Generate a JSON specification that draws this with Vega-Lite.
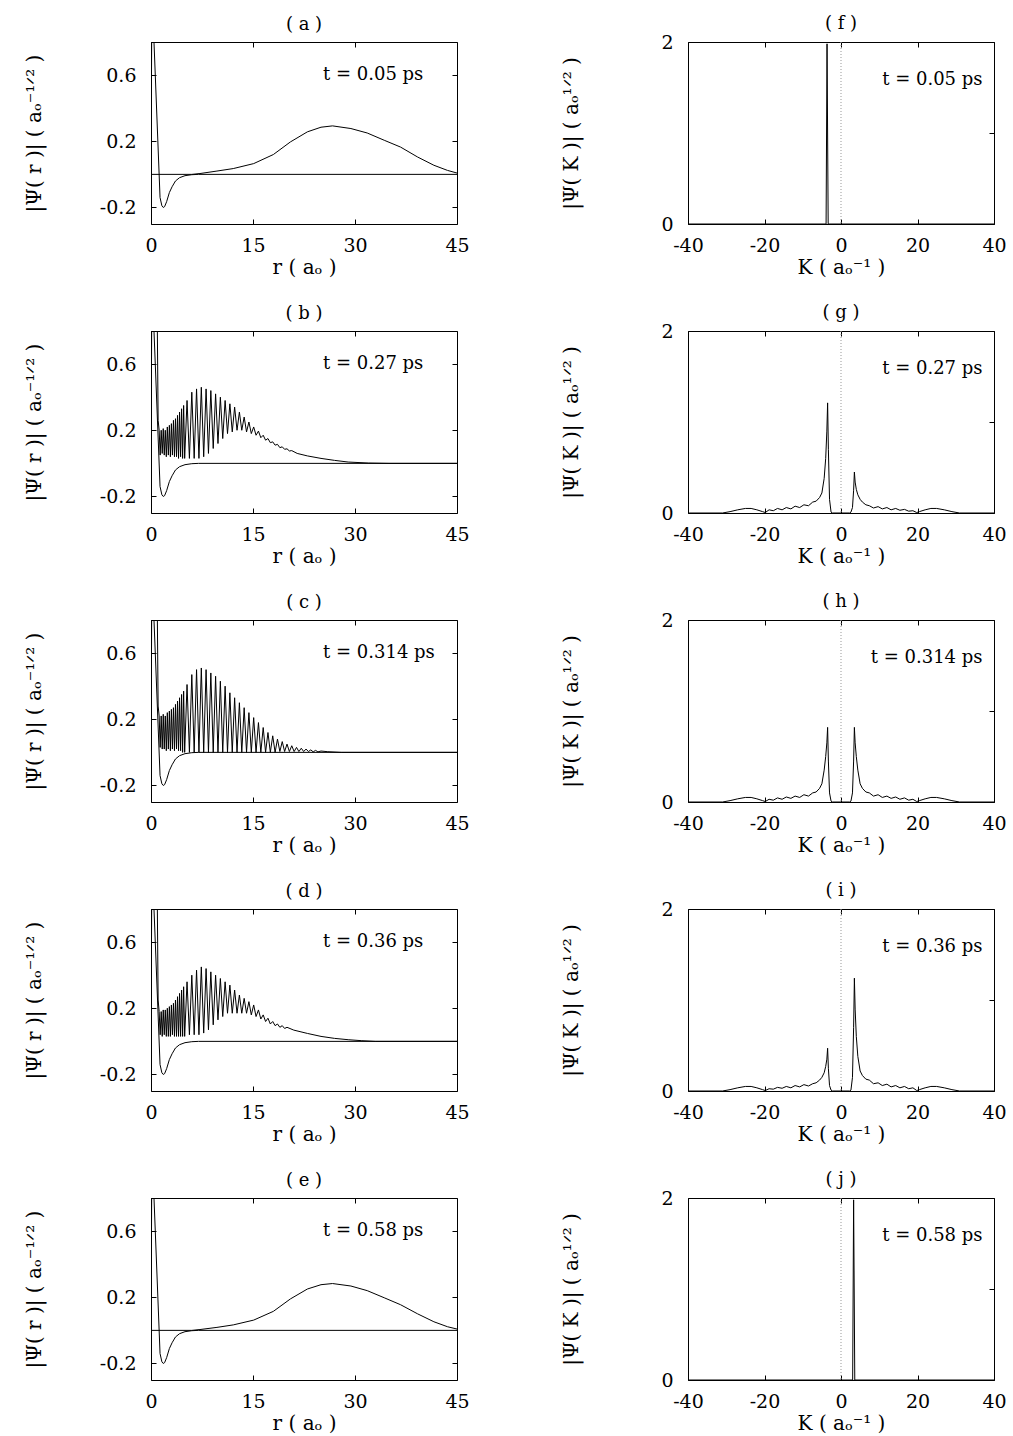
{
"$schema": "https://vega.github.io/schema/vega-lite/v6.json",
"background": "white",
"padding": {"left": 23, "top": 14, "right": 5, "bottom": 2},
"config": {
  "font": "DejaVu Serif",
  "view": {"stroke": "black", "strokeWidth": 1},
  "title": {"fontSize": 18, "fontWeight": "normal", "offset": 8, "color": "black", "frame": "group"},
  "axis": {"labelFontSize": 19, "titleFontSize": 20, "titleFontWeight": "normal", "labelColor": "black", "titleColor": "black", "tickColor": "black", "tickSize": -5, "domain": false, "grid": false, "labelFlush": false, "labelExpr": "replace(datum.label, '\u2212', '-')"},
  "axisX": {"titlePadding": 2, "labelPadding": 17},
  "axisY": {"labelPadding": 20},
  "text": {"fontSize": 18, "color": "black"}
},
"datasets": {
  "dip": [
    {"r": 0, "v": 0}, {"r": 0.12, "v": 1.0}, {"r": 0.3, "v": 1.0}, {"r": 0.44, "v": 0.8}, {"r": 1.33, "v": -0.14}, {"r": 1.6, "v": -0.19}, {"r": 1.8, "v": -0.2}, {"r": 2.0, "v": -0.195}, {"r": 2.3, "v": -0.165}, {"r": 2.7, "v": -0.11}, {"r": 3.1, "v": -0.075}, {"r": 3.6, "v": -0.04}, {"r": 4.2, "v": -0.02}, {"r": 5.0, "v": -0.008}, {"r": 6.0, "v": -0.002}, {"r": 7.0, "v": 0}, {"r": 45, "v": 0}
  ],
  "a": [
    {"r": 0, "v": 0}, {"r": 6, "v": 0}, {"r": 7.2, "v": 0.005}, {"r": 9.7, "v": 0.02}, {"r": 12.1, "v": 0.035}, {"r": 15.1, "v": 0.065}, {"r": 18.0, "v": 0.12}, {"r": 20.5, "v": 0.196}, {"r": 23.0, "v": 0.257}, {"r": 25.0, "v": 0.285}, {"r": 26.7, "v": 0.293}, {"r": 29.4, "v": 0.277}, {"r": 31.8, "v": 0.25}, {"r": 34.3, "v": 0.206}, {"r": 36.7, "v": 0.165}, {"r": 39.2, "v": 0.105}, {"r": 41.6, "v": 0.055}, {"r": 43.6, "v": 0.024}, {"r": 45, "v": 0.008}
  ],
  "e": [
    {"r": 0, "v": 0}, {"r": 6, "v": 0}, {"r": 7.2, "v": 0.005}, {"r": 9.7, "v": 0.018}, {"r": 12.1, "v": 0.033}, {"r": 15.1, "v": 0.062}, {"r": 18.0, "v": 0.115}, {"r": 20.5, "v": 0.19}, {"r": 23.0, "v": 0.25}, {"r": 25.0, "v": 0.276}, {"r": 26.7, "v": 0.283}, {"r": 29.4, "v": 0.268}, {"r": 31.8, "v": 0.24}, {"r": 34.3, "v": 0.197}, {"r": 36.7, "v": 0.155}, {"r": 39.2, "v": 0.1}, {"r": 41.6, "v": 0.052}, {"r": 43.6, "v": 0.022}, {"r": 45, "v": 0.008}
  ],
  "b": [
    {"r": 0.85, "v": 1.2}, {"r": 1.05, "v": 0.26}, {"r": 1.2, "v": 0.2}, {"r": 1.35, "v": 0.05}, {"r": 1.5, "v": 0.2}, {"r": 1.65, "v": 0.06}, {"r": 1.8, "v": 0.21}, {"r": 1.95, "v": 0.05}, {"r": 2.1, "v": 0.2}, {"r": 2.25, "v": 0.04}, {"r": 2.4, "v": 0.22}, {"r": 2.55, "v": 0.05}, {"r": 2.7, "v": 0.23}, {"r": 2.85, "v": 0.04}, {"r": 3.0, "v": 0.24}, {"r": 3.15, "v": 0.05}, {"r": 3.3, "v": 0.26}, {"r": 3.45, "v": 0.04}, {"r": 3.6, "v": 0.27}, {"r": 3.75, "v": 0.04}, {"r": 3.9, "v": 0.29}, {"r": 4.05, "v": 0.03}, {"r": 4.2, "v": 0.31}, {"r": 4.35, "v": 0.04}, {"r": 4.5, "v": 0.33}, {"r": 4.65, "v": 0.03}, {"r": 4.8, "v": 0.35}, {"r": 4.95, "v": 0.03},
    {"r": 5.3, "v": 0.38}, {"r": 5.65, "v": 0.03}, {"r": 6.0, "v": 0.43}, {"r": 6.35, "v": 0.03}, {"r": 6.7, "v": 0.45}, {"r": 7.05, "v": 0.03}, {"r": 7.4, "v": 0.46}, {"r": 7.75, "v": 0.04}, {"r": 8.1, "v": 0.45}, {"r": 8.45, "v": 0.06}, {"r": 8.8, "v": 0.44}, {"r": 9.15, "v": 0.09}, {"r": 9.5, "v": 0.42}, {"r": 9.85, "v": 0.12}, {"r": 10.2, "v": 0.4}, {"r": 10.55, "v": 0.15}, {"r": 10.9, "v": 0.38}, {"r": 11.25, "v": 0.18}, {"r": 11.6, "v": 0.36}, {"r": 11.95, "v": 0.19}, {"r": 12.3, "v": 0.34}, {"r": 12.65, "v": 0.2}, {"r": 13.0, "v": 0.31}, {"r": 13.35, "v": 0.2}, {"r": 13.7, "v": 0.28}, {"r": 14.05, "v": 0.19}, {"r": 14.4, "v": 0.25}, {"r": 14.75, "v": 0.18}, {"r": 15.1, "v": 0.22}, {"r": 15.45, "v": 0.17}, {"r": 15.8, "v": 0.195}, {"r": 16.15, "v": 0.155}, {"r": 16.5, "v": 0.17}, {"r": 16.85, "v": 0.14}, {"r": 17.2, "v": 0.15}, {"r": 17.55, "v": 0.125}, {"r": 17.9, "v": 0.13}, {"r": 18.25, "v": 0.11}, {"r": 18.6, "v": 0.115}, {"r": 18.95, "v": 0.095}, {"r": 19.3, "v": 0.1}, {"r": 19.65, "v": 0.085}, {"r": 20.0, "v": 0.088}, {"r": 20.35, "v": 0.075}, {"r": 20.7, "v": 0.077}, {"r": 21.5, "v": 0.06}, {"r": 23, "v": 0.045}, {"r": 25, "v": 0.03}, {"r": 27, "v": 0.018}, {"r": 29, "v": 0.008}, {"r": 32, "v": 0.002}, {"r": 35, "v": 0}, {"r": 45, "v": 0}
  ],
  "c": [
    {"r": 0.85, "v": 1.2}, {"r": 1.05, "v": 0.28}, {"r": 1.2, "v": 0.22}, {"r": 1.35, "v": 0.03}, {"r": 1.5, "v": 0.22}, {"r": 1.65, "v": 0.02}, {"r": 1.8, "v": 0.23}, {"r": 1.95, "v": 0.02}, {"r": 2.1, "v": 0.22}, {"r": 2.25, "v": 0.01}, {"r": 2.4, "v": 0.24}, {"r": 2.55, "v": 0.02}, {"r": 2.7, "v": 0.25}, {"r": 2.85, "v": 0.01}, {"r": 3.0, "v": 0.26}, {"r": 3.15, "v": 0.02}, {"r": 3.3, "v": 0.27}, {"r": 3.45, "v": 0.01}, {"r": 3.6, "v": 0.29}, {"r": 3.75, "v": 0.02}, {"r": 3.9, "v": 0.31}, {"r": 4.05, "v": 0.01}, {"r": 4.2, "v": 0.33}, {"r": 4.35, "v": 0.01}, {"r": 4.5, "v": 0.35}, {"r": 4.65, "v": 0}, {"r": 4.8, "v": 0.37}, {"r": 4.95, "v": 0},
    {"r": 5.3, "v": 0.41}, {"r": 5.65, "v": 0}, {"r": 6.0, "v": 0.47}, {"r": 6.35, "v": 0}, {"r": 6.7, "v": 0.5}, {"r": 7.05, "v": 0}, {"r": 7.4, "v": 0.51}, {"r": 7.75, "v": 0}, {"r": 8.1, "v": 0.5}, {"r": 8.45, "v": 0}, {"r": 8.8, "v": 0.48}, {"r": 9.15, "v": 0}, {"r": 9.5, "v": 0.46}, {"r": 9.85, "v": 0}, {"r": 10.2, "v": 0.43}, {"r": 10.55, "v": 0}, {"r": 10.9, "v": 0.4}, {"r": 11.25, "v": 0}, {"r": 11.6, "v": 0.36}, {"r": 11.95, "v": 0}, {"r": 12.3, "v": 0.33}, {"r": 12.65, "v": 0}, {"r": 13.0, "v": 0.3}, {"r": 13.35, "v": 0}, {"r": 13.7, "v": 0.27}, {"r": 14.05, "v": 0}, {"r": 14.4, "v": 0.24}, {"r": 14.75, "v": 0}, {"r": 15.1, "v": 0.21}, {"r": 15.45, "v": 0}, {"r": 15.8, "v": 0.18}, {"r": 16.15, "v": 0}, {"r": 16.5, "v": 0.15}, {"r": 16.85, "v": 0}, {"r": 17.2, "v": 0.12}, {"r": 17.55, "v": 0}, {"r": 17.9, "v": 0.1}, {"r": 18.25, "v": 0}, {"r": 18.6, "v": 0.08}, {"r": 18.95, "v": 0.005}, {"r": 19.3, "v": 0.065}, {"r": 19.65, "v": 0.005}, {"r": 20.0, "v": 0.05}, {"r": 20.35, "v": 0.005}, {"r": 20.7, "v": 0.04}, {"r": 21.05, "v": 0.005}, {"r": 21.4, "v": 0.03}, {"r": 21.75, "v": 0.005}, {"r": 22.1, "v": 0.025}, {"r": 22.45, "v": 0.005}, {"r": 22.8, "v": 0.02}, {"r": 23.15, "v": 0.005}, {"r": 23.5, "v": 0.015}, {"r": 23.85, "v": 0.003}, {"r": 24.2, "v": 0.012}, {"r": 24.55, "v": 0.003}, {"r": 25.0, "v": 0.008}, {"r": 26, "v": 0.004}, {"r": 28, "v": 0}, {"r": 45, "v": 0}
  ],
  "d": [
    {"r": 0.85, "v": 1.2}, {"r": 1.05, "v": 0.25}, {"r": 1.2, "v": 0.18}, {"r": 1.35, "v": 0.04}, {"r": 1.5, "v": 0.18}, {"r": 1.65, "v": 0.03}, {"r": 1.8, "v": 0.19}, {"r": 1.95, "v": 0.04}, {"r": 2.1, "v": 0.19}, {"r": 2.25, "v": 0.03}, {"r": 2.4, "v": 0.2}, {"r": 2.55, "v": 0.03}, {"r": 2.7, "v": 0.21}, {"r": 2.85, "v": 0.03}, {"r": 3.0, "v": 0.22}, {"r": 3.15, "v": 0.04}, {"r": 3.3, "v": 0.23}, {"r": 3.45, "v": 0.03}, {"r": 3.6, "v": 0.25}, {"r": 3.75, "v": 0.03}, {"r": 3.9, "v": 0.27}, {"r": 4.05, "v": 0.03}, {"r": 4.2, "v": 0.29}, {"r": 4.35, "v": 0.03}, {"r": 4.5, "v": 0.31}, {"r": 4.65, "v": 0.03}, {"r": 4.8, "v": 0.33}, {"r": 4.95, "v": 0.03},
    {"r": 5.3, "v": 0.36}, {"r": 5.65, "v": 0.04}, {"r": 6.0, "v": 0.4}, {"r": 6.35, "v": 0.04}, {"r": 6.7, "v": 0.43}, {"r": 7.05, "v": 0.04}, {"r": 7.4, "v": 0.45}, {"r": 7.75, "v": 0.05}, {"r": 8.1, "v": 0.44}, {"r": 8.45, "v": 0.07}, {"r": 8.8, "v": 0.42}, {"r": 9.15, "v": 0.1}, {"r": 9.5, "v": 0.4}, {"r": 9.85, "v": 0.13}, {"r": 10.2, "v": 0.38}, {"r": 10.55, "v": 0.15}, {"r": 10.9, "v": 0.36}, {"r": 11.25, "v": 0.17}, {"r": 11.6, "v": 0.34}, {"r": 11.95, "v": 0.17}, {"r": 12.3, "v": 0.31}, {"r": 12.65, "v": 0.17}, {"r": 13.0, "v": 0.28}, {"r": 13.35, "v": 0.17}, {"r": 13.7, "v": 0.26}, {"r": 14.05, "v": 0.17}, {"r": 14.4, "v": 0.24}, {"r": 14.75, "v": 0.16}, {"r": 15.1, "v": 0.22}, {"r": 15.45, "v": 0.15}, {"r": 15.8, "v": 0.19}, {"r": 16.15, "v": 0.135}, {"r": 16.5, "v": 0.16}, {"r": 16.85, "v": 0.12}, {"r": 17.2, "v": 0.14}, {"r": 17.55, "v": 0.105}, {"r": 17.9, "v": 0.12}, {"r": 18.25, "v": 0.095}, {"r": 18.6, "v": 0.105}, {"r": 18.95, "v": 0.085}, {"r": 19.3, "v": 0.095}, {"r": 19.65, "v": 0.078}, {"r": 20.0, "v": 0.085}, {"r": 21, "v": 0.068}, {"r": 23, "v": 0.048}, {"r": 25, "v": 0.03}, {"r": 27, "v": 0.018}, {"r": 29, "v": 0.01}, {"r": 31, "v": 0.004}, {"r": 33, "v": 0}, {"r": 45, "v": 0}
  ],
  "f": [
    {"k": -40, "v": 0}, {"k": -3.9, "v": 0}, {"k": -3.65, "v": 1.98}, {"k": -3.35, "v": 0}, {"k": 40, "v": 0}
  ],
  "j": [
    {"k": -40, "v": 0}, {"k": 3.05, "v": 0}, {"k": 3.3, "v": 1.98}, {"k": 3.6, "v": 0}, {"k": 40, "v": 0}
  ],
  "g": [
    {"k": -40, "v": 0}, {"k": -31, "v": 0}, {"k": -29, "v": 0.015}, {"k": -27, "v": 0.035}, {"k": -25, "v": 0.05}, {"k": -23.5, "v": 0.05}, {"k": -22, "v": 0.035}, {"k": -20.5, "v": 0.015}, {"k": -19.8, "v": 0.005}, {"k": -18.8, "v": 0.035}, {"k": -17.7, "v": 0.025}, {"k": -16.6, "v": 0.05}, {"k": -15.4, "v": 0.035}, {"k": -14.3, "v": 0.06}, {"k": -13.1, "v": 0.045}, {"k": -12, "v": 0.075}, {"k": -10.8, "v": 0.06}, {"k": -9.7, "v": 0.09}, {"k": -8.5, "v": 0.08}, {"k": -7.4, "v": 0.12}, {"k": -6.5, "v": 0.13}, {"k": -5.6, "v": 0.17}, {"k": -5.0, "v": 0.22}, {"k": -4.4, "v": 0.38}, {"k": -4.0, "v": 0.6}, {"k": -3.7, "v": 0.9}, {"k": -3.5, "v": 1.21}, {"k": -3.3, "v": 0.7}, {"k": -3.0, "v": 0.15}, {"k": -2.6, "v": 0.01}, {"k": -2.3, "v": 0}, {"k": 2.3, "v": 0}, {"k": 2.6, "v": 0.01}, {"k": 3.0, "v": 0.06}, {"k": 3.3, "v": 0.25}, {"k": 3.5, "v": 0.45}, {"k": 3.7, "v": 0.34}, {"k": 4.0, "v": 0.26}, {"k": 4.4, "v": 0.2}, {"k": 5.0, "v": 0.15}, {"k": 5.6, "v": 0.12}, {"k": 6.5, "v": 0.09}, {"k": 7.4, "v": 0.08}, {"k": 8.5, "v": 0.055}, {"k": 9.7, "v": 0.07}, {"k": 10.8, "v": 0.045}, {"k": 12, "v": 0.06}, {"k": 13.1, "v": 0.035}, {"k": 14.3, "v": 0.05}, {"k": 15.4, "v": 0.03}, {"k": 16.6, "v": 0.04}, {"k": 17.7, "v": 0.02}, {"k": 18.8, "v": 0.025}, {"k": 19.8, "v": 0.005}, {"k": 20.5, "v": 0.015}, {"k": 22, "v": 0.035}, {"k": 23.5, "v": 0.05}, {"k": 25, "v": 0.05}, {"k": 27, "v": 0.035}, {"k": 29, "v": 0.015}, {"k": 31, "v": 0}, {"k": 40, "v": 0}
  ],
  "h": [
    {"k": -40, "v": 0}, {"k": -31, "v": 0}, {"k": -29, "v": 0.015}, {"k": -27, "v": 0.035}, {"k": -25, "v": 0.05}, {"k": -23.5, "v": 0.05}, {"k": -22, "v": 0.035}, {"k": -20.5, "v": 0.015}, {"k": -19.8, "v": 0.005}, {"k": -18.8, "v": 0.03}, {"k": -17.7, "v": 0.02}, {"k": -16.6, "v": 0.045}, {"k": -15.4, "v": 0.03}, {"k": -14.3, "v": 0.055}, {"k": -13.1, "v": 0.04}, {"k": -12, "v": 0.065}, {"k": -10.8, "v": 0.05}, {"k": -9.7, "v": 0.08}, {"k": -8.5, "v": 0.065}, {"k": -7.4, "v": 0.1}, {"k": -6.5, "v": 0.11}, {"k": -5.6, "v": 0.15}, {"k": -5.0, "v": 0.2}, {"k": -4.4, "v": 0.35}, {"k": -4.0, "v": 0.5}, {"k": -3.7, "v": 0.65}, {"k": -3.5, "v": 0.82}, {"k": -3.3, "v": 0.45}, {"k": -3.0, "v": 0.1}, {"k": -2.6, "v": 0.01}, {"k": -2.3, "v": 0}, {"k": 2.3, "v": 0}, {"k": 2.6, "v": 0.01}, {"k": 3.0, "v": 0.1}, {"k": 3.3, "v": 0.45}, {"k": 3.5, "v": 0.82}, {"k": 3.7, "v": 0.65}, {"k": 4.0, "v": 0.5}, {"k": 4.4, "v": 0.35}, {"k": 5.0, "v": 0.2}, {"k": 5.6, "v": 0.15}, {"k": 6.5, "v": 0.11}, {"k": 7.4, "v": 0.1}, {"k": 8.5, "v": 0.065}, {"k": 9.7, "v": 0.08}, {"k": 10.8, "v": 0.05}, {"k": 12, "v": 0.065}, {"k": 13.1, "v": 0.04}, {"k": 14.3, "v": 0.055}, {"k": 15.4, "v": 0.03}, {"k": 16.6, "v": 0.045}, {"k": 17.7, "v": 0.02}, {"k": 18.8, "v": 0.03}, {"k": 19.8, "v": 0.005}, {"k": 20.5, "v": 0.015}, {"k": 22, "v": 0.035}, {"k": 23.5, "v": 0.05}, {"k": 25, "v": 0.05}, {"k": 27, "v": 0.035}, {"k": 29, "v": 0.015}, {"k": 31, "v": 0}, {"k": 40, "v": 0}
  ],
  "i": [
    {"k": -40, "v": 0}, {"k": -31, "v": 0}, {"k": -29, "v": 0.015}, {"k": -27, "v": 0.035}, {"k": -25, "v": 0.05}, {"k": -23.5, "v": 0.05}, {"k": -22, "v": 0.035}, {"k": -20.5, "v": 0.015}, {"k": -19.8, "v": 0.005}, {"k": -18.8, "v": 0.025}, {"k": -17.7, "v": 0.02}, {"k": -16.6, "v": 0.04}, {"k": -15.4, "v": 0.03}, {"k": -14.3, "v": 0.05}, {"k": -13.1, "v": 0.035}, {"k": -12, "v": 0.06}, {"k": -10.8, "v": 0.045}, {"k": -9.7, "v": 0.07}, {"k": -8.5, "v": 0.055}, {"k": -7.4, "v": 0.08}, {"k": -6.5, "v": 0.09}, {"k": -5.6, "v": 0.12}, {"k": -5.0, "v": 0.15}, {"k": -4.4, "v": 0.2}, {"k": -4.0, "v": 0.27}, {"k": -3.7, "v": 0.35}, {"k": -3.5, "v": 0.47}, {"k": -3.3, "v": 0.25}, {"k": -3.0, "v": 0.06}, {"k": -2.6, "v": 0.01}, {"k": -2.3, "v": 0}, {"k": 2.3, "v": 0}, {"k": 2.6, "v": 0.01}, {"k": 3.0, "v": 0.15}, {"k": 3.3, "v": 0.7}, {"k": 3.5, "v": 1.24}, {"k": 3.7, "v": 0.9}, {"k": 4.0, "v": 0.6}, {"k": 4.4, "v": 0.38}, {"k": 5.0, "v": 0.22}, {"k": 5.6, "v": 0.17}, {"k": 6.5, "v": 0.13}, {"k": 7.4, "v": 0.12}, {"k": 8.5, "v": 0.08}, {"k": 9.7, "v": 0.09}, {"k": 10.8, "v": 0.06}, {"k": 12, "v": 0.075}, {"k": 13.1, "v": 0.045}, {"k": 14.3, "v": 0.06}, {"k": 15.4, "v": 0.035}, {"k": 16.6, "v": 0.05}, {"k": 17.7, "v": 0.025}, {"k": 18.8, "v": 0.035}, {"k": 19.8, "v": 0.005}, {"k": 20.5, "v": 0.015}, {"k": 22, "v": 0.035}, {"k": 23.5, "v": 0.05}, {"k": 25, "v": 0.05}, {"k": 27, "v": 0.035}, {"k": 29, "v": 0.015}, {"k": 31, "v": 0}, {"k": 40, "v": 0}
  ],
  "labels": [
    {"p": "a", "x": 25.3, "y": 0.6, "t": "t = 0.05 ps"},
    {"p": "b", "x": 25.3, "y": 0.6, "t": "t = 0.27 ps"},
    {"p": "c", "x": 25.3, "y": 0.6, "t": "t = 0.314 ps"},
    {"p": "d", "x": 25.3, "y": 0.6, "t": "t = 0.36 ps"},
    {"p": "e", "x": 25.3, "y": 0.6, "t": "t = 0.58 ps"},
    {"p": "f", "x": 37, "y": 1.58, "t": "t = 0.05 ps"},
    {"p": "g", "x": 37, "y": 1.58, "t": "t = 0.27 ps"},
    {"p": "h", "x": 37, "y": 1.58, "t": "t = 0.314 ps"},
    {"p": "i", "x": 37, "y": 1.58, "t": "t = 0.36 ps"},
    {"p": "j", "x": 37, "y": 1.58, "t": "t = 0.58 ps"}
  ],
  "zero": [{"k": 0}]
},
"vconcat": [
  {"hconcat": [
    {"width": 306, "height": 182, "title": "( a )", "layer": [
      {"data": {"name": "dip"}, "mark": {"type": "line", "clip": true, "color": "black", "strokeWidth": 1}, "encoding": {"x": {"field": "r", "type": "quantitative", "scale": {"domain": [0, 45], "nice": false, "zero": false}, "axis": {"values": [0, 15, 30, 45], "title": "r  (  aₒ  )"}}, "y": {"field": "v", "type": "quantitative", "scale": {"domain": [-0.3, 0.8], "nice": false, "zero": false}, "axis": {"values": [-0.2, 0.2, 0.6], "format": ".1f", "title": "|Ψ( r )|  ( aₒ⁻¹ᐟ² )", "titlePadding": 55}}}},
      {"data": {"name": "a"}, "mark": {"type": "line", "clip": true, "color": "black", "strokeWidth": 1}, "encoding": {"x": {"field": "r", "type": "quantitative", "axis": null}, "y": {"field": "v", "type": "quantitative", "axis": null}}},
      {"data": {"name": "labels"}, "transform": [{"filter": "datum.p == 'a'"}], "mark": {"type": "text", "align": "left", "baseline": "middle"}, "encoding": {"x": {"field": "x", "type": "quantitative", "axis": {"orient": "top", "labels": false, "title": null, "values": [0, 15, 30, 45]}}, "y": {"field": "y", "type": "quantitative", "axis": {"orient": "right", "labels": false, "title": null, "values": [-0.2, 0.2, 0.6]}}, "text": {"field": "t"}}}
    ], "resolve": {"axis": {"x": "independent", "y": "independent"}}},
    {"width": 306, "height": 182, "title": {"text": "( f )", "offset": 0}, "layer": [
      {"data": {"name": "zero"}, "mark": {"type": "rule", "color": "#999999", "strokeDash": [1, 2], "strokeWidth": 1}, "encoding": {"x": {"field": "k", "type": "quantitative", "axis": null}}},
      {"data": {"name": "f"}, "mark": {"type": "line", "clip": true, "color": "black", "strokeWidth": 1}, "encoding": {"x": {"field": "k", "type": "quantitative", "scale": {"domain": [-40, 40], "nice": false, "zero": false}, "axis": {"values": [-40, -20, 0, 20, 40], "title": "K  (  aₒ⁻¹  )"}}, "y": {"field": "v", "type": "quantitative", "scale": {"domain": [0, 2], "nice": false}, "axis": {"values": [0, 1, 2], "format": "d", "title": "|Ψ( K )|  ( aₒ¹ᐟ² )", "titlePadding": 79}}}},
      {"data": {"name": "labels"}, "transform": [{"filter": "datum.p == 'f'"}], "mark": {"type": "text", "align": "right", "baseline": "middle"}, "encoding": {"x": {"field": "x", "type": "quantitative", "axis": {"orient": "top", "labels": false, "title": null, "values": [-40, -20, 0, 20, 40]}}, "y": {"field": "y", "type": "quantitative", "axis": {"orient": "right", "labels": false, "title": null, "values": [0, 1, 2]}}, "text": {"field": "t"}}}
    ], "resolve": {"axis": {"x": "independent", "y": "independent"}}}
  ], "spacing": 91},
  {"hconcat": [
    {"width": 306, "height": 182, "title": "( b )", "layer": [
      {"data": {"name": "dip"}, "mark": {"type": "line", "clip": true, "color": "black", "strokeWidth": 1}, "encoding": {"x": {"field": "r", "type": "quantitative", "scale": {"domain": [0, 45], "nice": false, "zero": false}, "axis": {"values": [0, 15, 30, 45], "title": "r  (  aₒ  )"}}, "y": {"field": "v", "type": "quantitative", "scale": {"domain": [-0.3, 0.8], "nice": false, "zero": false}, "axis": {"values": [-0.2, 0.2, 0.6], "format": ".1f", "title": "|Ψ( r )|  ( aₒ⁻¹ᐟ² )", "titlePadding": 55}}}},
      {"data": {"name": "b"}, "mark": {"type": "line", "clip": true, "color": "black", "strokeWidth": 1}, "encoding": {"x": {"field": "r", "type": "quantitative", "axis": null}, "y": {"field": "v", "type": "quantitative", "axis": null}}},
      {"data": {"name": "labels"}, "transform": [{"filter": "datum.p == 'b'"}], "mark": {"type": "text", "align": "left", "baseline": "middle"}, "encoding": {"x": {"field": "x", "type": "quantitative", "axis": {"orient": "top", "labels": false, "title": null, "values": [0, 15, 30, 45]}}, "y": {"field": "y", "type": "quantitative", "axis": {"orient": "right", "labels": false, "title": null, "values": [-0.2, 0.2, 0.6]}}, "text": {"field": "t"}}}
    ], "resolve": {"axis": {"x": "independent", "y": "independent"}}},
    {"width": 306, "height": 182, "title": {"text": "( g )", "offset": 0}, "layer": [
      {"data": {"name": "zero"}, "mark": {"type": "rule", "color": "#999999", "strokeDash": [1, 2], "strokeWidth": 1}, "encoding": {"x": {"field": "k", "type": "quantitative", "axis": null}}},
      {"data": {"name": "g"}, "mark": {"type": "line", "clip": true, "color": "black", "strokeWidth": 1}, "encoding": {"x": {"field": "k", "type": "quantitative", "scale": {"domain": [-40, 40], "nice": false, "zero": false}, "axis": {"values": [-40, -20, 0, 20, 40], "title": "K  (  aₒ⁻¹  )"}}, "y": {"field": "v", "type": "quantitative", "scale": {"domain": [0, 2], "nice": false}, "axis": {"values": [0, 1, 2], "format": "d", "title": "|Ψ( K )|  ( aₒ¹ᐟ² )", "titlePadding": 79}}}},
      {"data": {"name": "labels"}, "transform": [{"filter": "datum.p == 'g'"}], "mark": {"type": "text", "align": "right", "baseline": "middle"}, "encoding": {"x": {"field": "x", "type": "quantitative", "axis": {"orient": "top", "labels": false, "title": null, "values": [-40, -20, 0, 20, 40]}}, "y": {"field": "y", "type": "quantitative", "axis": {"orient": "right", "labels": false, "title": null, "values": [0, 1, 2]}}, "text": {"field": "t"}}}
    ], "resolve": {"axis": {"x": "independent", "y": "independent"}}}
  ], "spacing": 91},
  {"hconcat": [
    {"width": 306, "height": 182, "title": "( c )", "layer": [
      {"data": {"name": "dip"}, "mark": {"type": "line", "clip": true, "color": "black", "strokeWidth": 1}, "encoding": {"x": {"field": "r", "type": "quantitative", "scale": {"domain": [0, 45], "nice": false, "zero": false}, "axis": {"values": [0, 15, 30, 45], "title": "r  (  aₒ  )"}}, "y": {"field": "v", "type": "quantitative", "scale": {"domain": [-0.3, 0.8], "nice": false, "zero": false}, "axis": {"values": [-0.2, 0.2, 0.6], "format": ".1f", "title": "|Ψ( r )|  ( aₒ⁻¹ᐟ² )", "titlePadding": 55}}}},
      {"data": {"name": "c"}, "mark": {"type": "line", "clip": true, "color": "black", "strokeWidth": 1}, "encoding": {"x": {"field": "r", "type": "quantitative", "axis": null}, "y": {"field": "v", "type": "quantitative", "axis": null}}},
      {"data": {"name": "labels"}, "transform": [{"filter": "datum.p == 'c'"}], "mark": {"type": "text", "align": "left", "baseline": "middle"}, "encoding": {"x": {"field": "x", "type": "quantitative", "axis": {"orient": "top", "labels": false, "title": null, "values": [0, 15, 30, 45]}}, "y": {"field": "y", "type": "quantitative", "axis": {"orient": "right", "labels": false, "title": null, "values": [-0.2, 0.2, 0.6]}}, "text": {"field": "t"}}}
    ], "resolve": {"axis": {"x": "independent", "y": "independent"}}},
    {"width": 306, "height": 182, "title": {"text": "( h )", "offset": 0}, "layer": [
      {"data": {"name": "zero"}, "mark": {"type": "rule", "color": "#999999", "strokeDash": [1, 2], "strokeWidth": 1}, "encoding": {"x": {"field": "k", "type": "quantitative", "axis": null}}},
      {"data": {"name": "h"}, "mark": {"type": "line", "clip": true, "color": "black", "strokeWidth": 1}, "encoding": {"x": {"field": "k", "type": "quantitative", "scale": {"domain": [-40, 40], "nice": false, "zero": false}, "axis": {"values": [-40, -20, 0, 20, 40], "title": "K  (  aₒ⁻¹  )"}}, "y": {"field": "v", "type": "quantitative", "scale": {"domain": [0, 2], "nice": false}, "axis": {"values": [0, 1, 2], "format": "d", "title": "|Ψ( K )|  ( aₒ¹ᐟ² )", "titlePadding": 79}}}},
      {"data": {"name": "labels"}, "transform": [{"filter": "datum.p == 'h'"}], "mark": {"type": "text", "align": "right", "baseline": "middle"}, "encoding": {"x": {"field": "x", "type": "quantitative", "axis": {"orient": "top", "labels": false, "title": null, "values": [-40, -20, 0, 20, 40]}}, "y": {"field": "y", "type": "quantitative", "axis": {"orient": "right", "labels": false, "title": null, "values": [0, 1, 2]}}, "text": {"field": "t"}}}
    ], "resolve": {"axis": {"x": "independent", "y": "independent"}}}
  ], "spacing": 91},
  {"hconcat": [
    {"width": 306, "height": 182, "title": "( d )", "layer": [
      {"data": {"name": "dip"}, "mark": {"type": "line", "clip": true, "color": "black", "strokeWidth": 1}, "encoding": {"x": {"field": "r", "type": "quantitative", "scale": {"domain": [0, 45], "nice": false, "zero": false}, "axis": {"values": [0, 15, 30, 45], "title": "r  (  aₒ  )"}}, "y": {"field": "v", "type": "quantitative", "scale": {"domain": [-0.3, 0.8], "nice": false, "zero": false}, "axis": {"values": [-0.2, 0.2, 0.6], "format": ".1f", "title": "|Ψ( r )|  ( aₒ⁻¹ᐟ² )", "titlePadding": 55}}}},
      {"data": {"name": "d"}, "mark": {"type": "line", "clip": true, "color": "black", "strokeWidth": 1}, "encoding": {"x": {"field": "r", "type": "quantitative", "axis": null}, "y": {"field": "v", "type": "quantitative", "axis": null}}},
      {"data": {"name": "labels"}, "transform": [{"filter": "datum.p == 'd'"}], "mark": {"type": "text", "align": "left", "baseline": "middle"}, "encoding": {"x": {"field": "x", "type": "quantitative", "axis": {"orient": "top", "labels": false, "title": null, "values": [0, 15, 30, 45]}}, "y": {"field": "y", "type": "quantitative", "axis": {"orient": "right", "labels": false, "title": null, "values": [-0.2, 0.2, 0.6]}}, "text": {"field": "t"}}}
    ], "resolve": {"axis": {"x": "independent", "y": "independent"}}},
    {"width": 306, "height": 182, "title": {"text": "( i )", "offset": 0}, "layer": [
      {"data": {"name": "zero"}, "mark": {"type": "rule", "color": "#999999", "strokeDash": [1, 2], "strokeWidth": 1}, "encoding": {"x": {"field": "k", "type": "quantitative", "axis": null}}},
      {"data": {"name": "i"}, "mark": {"type": "line", "clip": true, "color": "black", "strokeWidth": 1}, "encoding": {"x": {"field": "k", "type": "quantitative", "scale": {"domain": [-40, 40], "nice": false, "zero": false}, "axis": {"values": [-40, -20, 0, 20, 40], "title": "K  (  aₒ⁻¹  )"}}, "y": {"field": "v", "type": "quantitative", "scale": {"domain": [0, 2], "nice": false}, "axis": {"values": [0, 1, 2], "format": "d", "title": "|Ψ( K )|  ( aₒ¹ᐟ² )", "titlePadding": 79}}}},
      {"data": {"name": "labels"}, "transform": [{"filter": "datum.p == 'i'"}], "mark": {"type": "text", "align": "right", "baseline": "middle"}, "encoding": {"x": {"field": "x", "type": "quantitative", "axis": {"orient": "top", "labels": false, "title": null, "values": [-40, -20, 0, 20, 40]}}, "y": {"field": "y", "type": "quantitative", "axis": {"orient": "right", "labels": false, "title": null, "values": [0, 1, 2]}}, "text": {"field": "t"}}}
    ], "resolve": {"axis": {"x": "independent", "y": "independent"}}}
  ], "spacing": 91},
  {"hconcat": [
    {"width": 306, "height": 182, "title": "( e )", "layer": [
      {"data": {"name": "dip"}, "mark": {"type": "line", "clip": true, "color": "black", "strokeWidth": 1}, "encoding": {"x": {"field": "r", "type": "quantitative", "scale": {"domain": [0, 45], "nice": false, "zero": false}, "axis": {"values": [0, 15, 30, 45], "title": "r  (  aₒ  )"}}, "y": {"field": "v", "type": "quantitative", "scale": {"domain": [-0.3, 0.8], "nice": false, "zero": false}, "axis": {"values": [-0.2, 0.2, 0.6], "format": ".1f", "title": "|Ψ( r )|  ( aₒ⁻¹ᐟ² )", "titlePadding": 55}}}},
      {"data": {"name": "e"}, "mark": {"type": "line", "clip": true, "color": "black", "strokeWidth": 1}, "encoding": {"x": {"field": "r", "type": "quantitative", "axis": null}, "y": {"field": "v", "type": "quantitative", "axis": null}}},
      {"data": {"name": "labels"}, "transform": [{"filter": "datum.p == 'e'"}], "mark": {"type": "text", "align": "left", "baseline": "middle"}, "encoding": {"x": {"field": "x", "type": "quantitative", "axis": {"orient": "top", "labels": false, "title": null, "values": [0, 15, 30, 45]}}, "y": {"field": "y", "type": "quantitative", "axis": {"orient": "right", "labels": false, "title": null, "values": [-0.2, 0.2, 0.6]}}, "text": {"field": "t"}}}
    ], "resolve": {"axis": {"x": "independent", "y": "independent"}}},
    {"width": 306, "height": 182, "title": {"text": "( j )", "offset": 0}, "layer": [
      {"data": {"name": "zero"}, "mark": {"type": "rule", "color": "#999999", "strokeDash": [1, 2], "strokeWidth": 1}, "encoding": {"x": {"field": "k", "type": "quantitative", "axis": null}}},
      {"data": {"name": "j"}, "mark": {"type": "line", "clip": true, "color": "black", "strokeWidth": 1}, "encoding": {"x": {"field": "k", "type": "quantitative", "scale": {"domain": [-40, 40], "nice": false, "zero": false}, "axis": {"values": [-40, -20, 0, 20, 40], "title": "K  (  aₒ⁻¹  )"}}, "y": {"field": "v", "type": "quantitative", "scale": {"domain": [0, 2], "nice": false}, "axis": {"values": [0, 1, 2], "format": "d", "title": "|Ψ( K )|  ( aₒ¹ᐟ² )", "titlePadding": 79}}}},
      {"data": {"name": "labels"}, "transform": [{"filter": "datum.p == 'j'"}], "mark": {"type": "text", "align": "right", "baseline": "middle"}, "encoding": {"x": {"field": "x", "type": "quantitative", "axis": {"orient": "top", "labels": false, "title": null, "values": [-40, -20, 0, 20, 40]}}, "y": {"field": "y", "type": "quantitative", "axis": {"orient": "right", "labels": false, "title": null, "values": [0, 1, 2]}}, "text": {"field": "t"}}}
    ], "resolve": {"axis": {"x": "independent", "y": "independent"}}}
  ], "spacing": 91}
],
"spacing": 25
}
